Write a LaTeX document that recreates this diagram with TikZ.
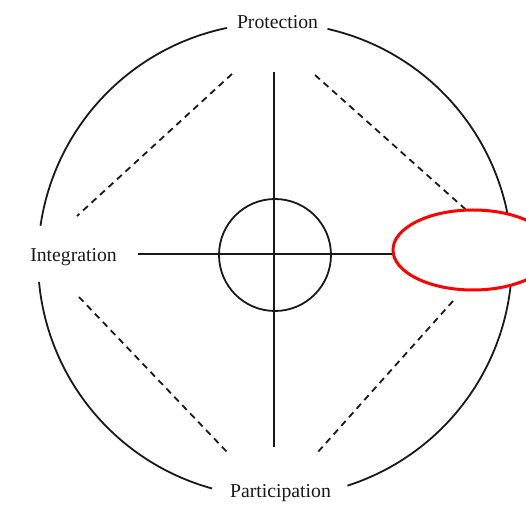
\documentclass[tikz,border=0pt]{standalone}
\usepackage{fontspec}
\setmainfont{Liberation Serif}
\usetikzlibrary{calc}
\begin{document}
\begin{tikzpicture}[x=1pt,y=1pt,
  solidline/.style={line width=1.8pt,black!90},
  dashline/.style={line width=1.8pt,black!90,dash pattern=on 6.5pt off 5pt},
  label/.style={anchor=base,inner sep=0pt,font=\fontsize{19.7}{22}\selectfont,text=black!90}]
\useasboundingbox (0,0) rectangle (526,505);
\fill[white] (0,0) rectangle (526,505);
\coordinate (C) at (275,245);
% outer circle with gaps for labels
\draw[solidline] ([shift={(C)}]77.2:237) arc[start angle=77.2, end angle=-72.2, radius=237];
\draw[solidline] ([shift={(C)}]101.7:237) arc[start angle=101.7, end angle=171.7, radius=237];
\draw[solidline] ([shift={(C)}]185.3:237) arc[start angle=185.3, end angle=254.6, radius=237];
% labels
\node[label] (prot) at (277.5,476) {Protection};
\node[label] (integ) at (73.5,243) {Integration};
\node[label] (part) at (280.5,8) {Participation};
% axes
\coordinate (vtop) at (274,433);
\coordinate (vbot) at (274,58);
\coordinate (hleft) at (138,251);
\coordinate (hright) at (410,251);
\draw[solidline] (vtop) -- (vbot);
\draw[solidline] (hleft) -- (hright);
% inner circle
\node[draw,solidline,circle,minimum size=112pt,inner sep=0pt] (inner) at (275,250) {};
% dashed diagonals
\coordinate (ula) at (232,431); \coordinate (ulb) at (77,289);
\coordinate (ura) at (315,430); \coordinate (urb) at (473,289);
\coordinate (lla) at (79,208);  \coordinate (llb) at (227,53);
\coordinate (lra) at (453,204); \coordinate (lrb) at (317,52);
\draw[dashline] (ula) -- (ulb);
\draw[dashline] (ura) -- (urb);
\draw[dashline] (lla) -- (llb);
\draw[dashline] (lra) -- (lrb);
% red highlight ellipse
\draw[red,line width=3pt,fill=white] (473,255) ellipse[x radius=80, y radius=40];
\end{tikzpicture}
\end{document}
